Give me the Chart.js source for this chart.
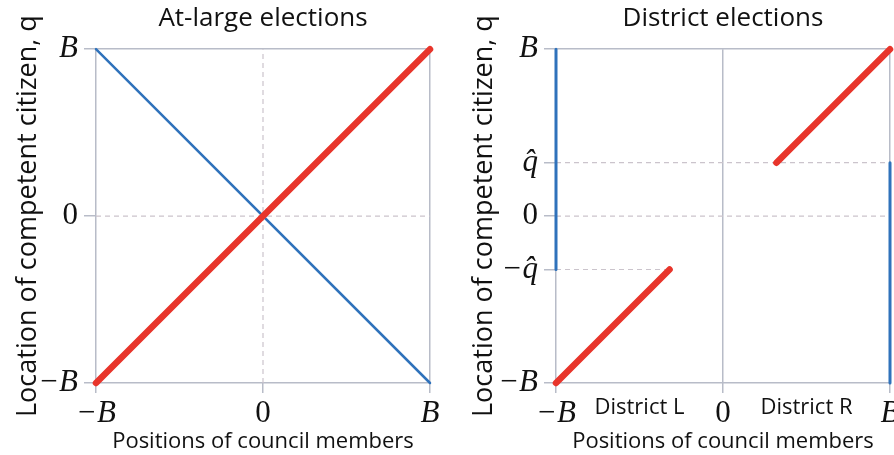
<!DOCTYPE html>
<html>
<head>
<meta charset="utf-8">
<script src="https://cdn.jsdelivr.net/npm/chart.js@4"></script>
<style>
  body { margin: 0; background: #fff; overflow: hidden; }
  #wrap { position: relative; width: 894px; height: 455px; overflow: hidden; }
  .box { position: absolute; top: 0; height: 455px; }
</style>
</head>
<body>
<div id="wrap">
  <div class="box" style="left:0;width:456px"><canvas id="atLarge"></canvas></div>
  <div class="box" style="left:456px;width:470px"><canvas id="district"></canvas></div>
</div>
<script>
// values in units of B
const atLargeTicks = [-1, 0, 1];
const atLargeLabels = ['\u2212B', '0', 'B'];
const atLargeRedX = [-1, 1];
const atLargeRedY = [-1, 1];
const atLargeBlueX = [-1, 1];
const atLargeBlueY = [1, -1];
const atLargeDashH = [-1, 1];   // y = 0 across
const atLargeDashV = [-1, 1];   // x = 0 across

const qHat = 0.32;
const districtTicksX = [-1, -0.5, 0, 0.5, 1];
const districtLabelsX = ['\u2212B', 'District L', '0', 'District R', 'B'];
const districtTicksY = [-1, -qHat, 0, qHat, 1];
const districtLabelsY = ['\u2212B', '\u2212q\u0302', '0', 'q\u0302', 'B'];
const redLowX = [-1, -qHat];
const redLowY = [-1, -qHat];
const redHighX = [qHat, 1];
const redHighY = [qHat, 1];
const blueLeftX = [-1, -1];
const blueLeftY = [1, -qHat];
const blueRightX = [1, 1];
const blueRightY = [qHat, -1];
const dashQHatX = [-1, 1];
const dashZeroX = [-1, 1];
const dashNegQHatX = [-1, -qHat];

const RED = '#e8352b';
const BLUE = '#2f72bb';
const GRID = '#b8bcc8';
const DASH = '#cbc4cc';

const pts = (xs, ys) => xs.map((x, i) => ({ x: x, y: ys[i] }));

function line(data, color, width, dash) {
  return {
    data: data,
    showLine: true,
    borderColor: color,
    borderWidth: width,
    borderDash: dash || [],
    borderCapStyle: dash ? 'butt' : 'round',
    pointRadius: 0,
    pointHoverRadius: 0,
    clip: false
  };
}

function tickFont(label) {
  if (label.startsWith('District')) return { family: 'Open Sans', size: 22 };
  if (label === '0') return { family: 'Liberation Serif', size: 31 };
  return { family: 'Liberation Serif', size: 31, style: 'italic' };
}

function makeChart(id, opts) {
  return new Chart(document.getElementById(id), {
    type: 'scatter',
    data: { datasets: opts.datasets },
    options: {
      responsive: true,
      maintainAspectRatio: false,
      animation: false,
      events: [],
      layout: { padding: opts.padding },
      plugins: {
        legend: { display: false },
        tooltip: { enabled: false },
        title: {
          display: true,
          fullSize: false,
          text: opts.title,
          color: '#111',
          font: { family: 'Open Sans', size: 26, weight: 'normal', lineHeight: 1.2 },
          padding: { top: 3, bottom: 15 }
        }
      },
      scales: {
        x: {
          type: 'linear',
          min: -1, max: 1,
          afterBuildTicks: s => { s.ticks = opts.ticksX.map(v => ({ value: v })); },
          afterFit: s => { s.height = 72; },
          ticks: {
            autoSkip: false,
            maxRotation: 0,
            padding: 2,
            color: '#111',
            callback: (v, i) => opts.labelsX[i],
            font: ctx => tickFont(opts.labelsX[ctx.index] || '0')
          },
          grid: {
            color: ctx => opts.gridX(ctx.tick ? ctx.tick.value : 0),
            tickColor: ctx => (ctx.tick && Math.abs(ctx.tick.value) === 0.5) ? 'transparent' : GRID,
            tickLength: 10,
            lineWidth: 1.5
          },
          border: { display: false },
          title: {
            display: true,
            text: 'Positions of council members',
            color: '#111',
            font: { family: 'Open Sans', size: 22 },
            padding: { top: 0, bottom: 0 }
          }
        },
        y: {
          type: 'linear',
          min: -1, max: 1,
          afterBuildTicks: s => { s.ticks = opts.ticksY.map(v => ({ value: v })); },
          afterFit: s => { s.width = opts.yWidth; },
          ticks: {
            autoSkip: false,
            padding: 6,
            color: '#111',
            callback: (v, i) => opts.labelsY[i],
            font: ctx => tickFont(opts.labelsY[ctx.index] || '0')
          },
          grid: {
            color: ctx => (ctx.tick && Math.abs(ctx.tick.value) === 1) ? GRID : 'transparent',
            tickColor: GRID,
            tickLength: 12,
            lineWidth: 1.5
          },
          border: { display: false },
          title: {
            display: true,
            text: 'Location of competent citizen, q',
            color: '#111',
            font: { family: 'Open Sans', size: 27 },
            padding: { top: 12, bottom: 0 }
          }
        }
      }
    }
  });
}

makeChart('atLarge', {
  title: 'At-large elections',
  padding: { left: 0, right: 26, top: 0, bottom: 0 },
  yWidth: 96,
  ticksX: atLargeTicks, labelsX: atLargeLabels,
  ticksY: atLargeTicks, labelsY: atLargeLabels,
  gridX: v => Math.abs(v) === 1 ? GRID : 'transparent',
  datasets: [
    line(pts(atLargeRedX, atLargeRedY), RED, 6.5),
    line(pts(atLargeBlueX, atLargeBlueY), BLUE, 2.5),
    line(pts(atLargeDashH, [0, 0]), DASH, 1.2, [5, 4]),
    line(pts([0, 0], atLargeDashV), DASH, 1.2, [5, 4])
  ]
});

makeChart('district', {
  title: 'District elections',
  padding: { left: 0, right: 36, top: 0, bottom: 0 },
  yWidth: 100,
  ticksX: districtTicksX, labelsX: districtLabelsX,
  ticksY: districtTicksY, labelsY: districtLabelsY,
  gridX: v => (Math.abs(v) === 1 || v === 0) ? GRID : 'transparent',
  datasets: [
    line(pts(redLowX, redLowY), RED, 6.5),
    line(pts(redHighX, redHighY), RED, 6.5),
    line(pts(blueLeftX, blueLeftY), BLUE, 3),
    line(pts(blueRightX, blueRightY), BLUE, 3),
    line(pts(dashQHatX, [qHat, qHat]), DASH, 1.2, [5, 4]),
    line(pts(dashZeroX, [0, 0]), DASH, 1.2, [5, 4]),
    line(pts(dashNegQHatX, [-qHat, -qHat]), DASH, 1.2, [5, 4])
  ]
});
</script>
</body>
</html>
